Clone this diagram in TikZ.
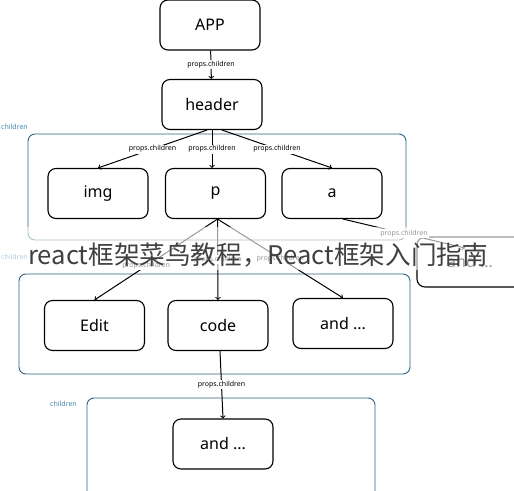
\documentclass[tikz,border=0pt]{standalone}
\usepackage{fontspec}
\setmainfont{Noto Sans}
\newfontfamily\cjk{Noto Sans CJK SC}
\usetikzlibrary{positioning}
\definecolor{groupblue}{RGB}{40,100,130}
\definecolor{labelblue}{RGB}{70,135,175}

\begin{document}
\begin{tikzpicture}[x=1pt, y=-1pt,
    box/.style={draw, line width=1.1pt, rounded corners=8pt, minimum width=100pt, minimum height=50pt, font=\fontsize{16}{16}\selectfont},
    group/.style={draw=groupblue, line width=0.9pt, rounded corners=7pt},
    arr/.style={->, line width=1pt},
    lbl/.style={fill=white, inner sep=1pt, font=\fontsize{7}{7}\selectfont},
    grouplbl/.style={text=labelblue, inner sep=0pt, anchor=east, font=\fontsize{7}{7}\selectfont}]
    \useasboundingbox (0,0) rectangle (514,490);
    % groups of children
    \draw[group] (28,134) rectangle (406,240);
    \draw[group] (19,274) rectangle (410,374);
    \draw[group] (87,398) rectangle (375,510);
    \node[grouplbl] (c1) at (28,127) {children};
    \node[grouplbl] (c2) at (28,257) {children};
    \node[grouplbl] (c3) at (77,404) {children};
    % components
    \node[box] (app) at (210,25) {APP};
    \node[box] (header) at (212,104.5) {header};
    \node[box] (img) at (98,193.5) {img};
    \node[box] (p) at (215.5,193.5) {p};
    \node[box] (a) at (332,193.5) {a};
    \node[box] (edit) at (94.5,325.5) {Edit};
    \node[box] (code) at (218,325.5) {code};
    \node[box] (and1) at (343,323.5) {and ...};
    \node[box] (and2) at (223,444) {and ...};
    \node[box, minimum width=106pt] (more) at (470,262) {and ...};
    \coordinate (moretip) at (465,248);
    % props.children arrows
    \draw[arr] (app) -- node[lbl] {props.children} (header);
    \draw[arr] ([xshift=-5pt]header.south) -- node[lbl] {props.children} (img.north);
    \draw[arr] (header.south) -- node[lbl] {props.children} (header.south |- p.north);
    \draw[arr] ([xshift=10pt]header.south) -- node[lbl] {props.children} (a.north);
    \draw[arr] ([xshift=2pt]p.south) -- node[lbl, pos=0.58] {props.children} (edit.north);
    \draw[arr] ([xshift=2pt]p.south) -- node[lbl] {props.children} (code.north);
    \draw[arr] ([xshift=2pt]p.south) -- node[lbl] {props.children} (and1.north);
    \draw[arr] ([xshift=11pt]a.south) -- node[lbl] {props.children} (moretip);
    \draw[arr] ([xshift=2pt]code.south) -- node[lbl] {props.children} (and2.north);
    % watermark band
    \fill[white, opacity=0.6] (0,227) rectangle (514,270);
    \node[anchor=base west, inner sep=0pt, text=black!75, font=\cjk\fontsize{25.6}{25.6}\selectfont] (wm) at (28,264) {react框架菜鸟教程，React框架入门指南};
\end{tikzpicture}
\end{document}
